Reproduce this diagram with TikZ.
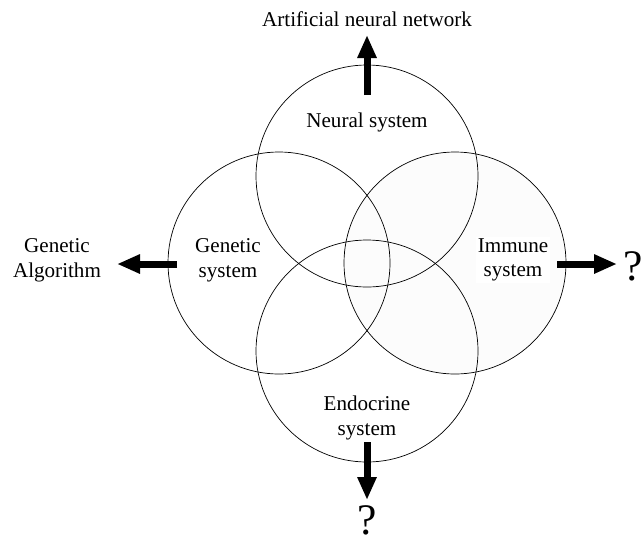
\documentclass[tikz,border=0pt]{standalone}
\usepackage{fontspec}
\setmainfont{Liberation Serif}
\usetikzlibrary{arrows.meta}
\begin{document}
\begin{tikzpicture}[x=0.025cm,y=-0.025cm,
  sys/.style={circle,draw=black,line width=0.5pt,minimum size=222*0.025cm,inner sep=0pt},
  lbl/.style={align=center,font=\fontsize{15}{17.5}\selectfont,inner sep=1pt},
  qmark/.style={font=\fontsize{31}{33}\selectfont,inner sep=0pt},
  fat/.style={line width=7*0.025cm,-{Triangle[length=23*0.025cm,width=18*0.025cm]}}]
\useasboundingbox (0,0) rectangle (642,546);
% the four overlapping systems
\node[sys,fill=black!1] (imm) at (455,263) {};
\node[sys] (neu) at (367,176) {};
\node[sys] (gen) at (279,263) {};
\node[sys] (end) at (367,351) {};
% system labels
\node[lbl] (neut) at (367,122) {Neural system};
\node[lbl] (gent) at (228,260) {Genetic\\system};
\node[lbl,fill=white] (immt) at (513,260) {Immune\\system};
\node[lbl] (endt) at (367,418) {Endocrine\\system};
% outcomes
\node[lbl] (ann) at (367,19) {Artificial neural network};
\node[lbl] (ga) at (57,260) {Genetic\\Algorithm};
\node[qmark] (qi) at (633,266) {?};
\node[qmark] (qe) at (367,520) {?};
% arrow anchors
\coordinate (n0) at (367,95);  \coordinate (n1) at (367,35);
\coordinate (g0) at (177,264); \coordinate (g1) at (117,264);
\coordinate (i0) at (557,264); \coordinate (i1) at (617,264);
\coordinate (e0) at (367,442); \coordinate (e1) at (367,500);
\draw[fat] (n0) -- (n1);
\draw[fat] (g0) -- (g1);
\draw[fat] (i0) -- (i1);
\draw[fat] (e0) -- (e1);
\end{tikzpicture}
\end{document}
